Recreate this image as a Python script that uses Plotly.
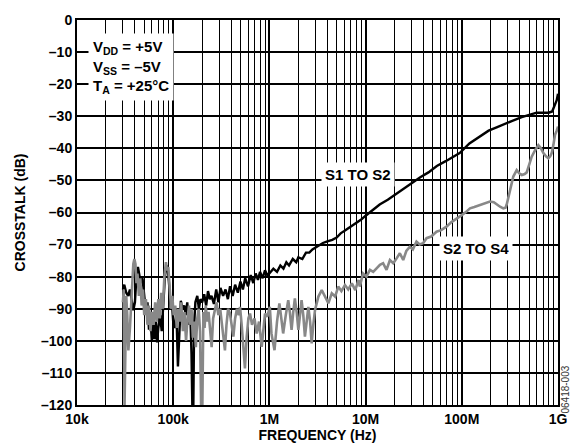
import plotly.graph_objects as go

# ---------------- data ----------------
s1_freq = [30e3, 31e3, 32.5e3, 34e3, 35.5e3, 37e3, 38.5e3, 40e3, 41.5e3, 43e3, 44.5e3, 46e3, 48e3,
           50e3, 52e3, 54e3, 56e3, 58e3, 60e3, 62e3, 64e3, 66e3, 68e3, 70e3, 73e3, 76e3, 79e3,
           82e3, 85e3, 88e3, 91e3, 94e3, 97e3, 100e3, 104e3, 108e3, 112e3, 116e3, 120e3, 125e3,
           130e3, 135e3, 140e3, 145e3, 150e3, 155e3, 158e3, 162e3, 165e3, 170e3, 178e3, 185e3,
           192e3, 200e3, 210e3, 220e3, 230e3, 240e3, 250e3, 265e3, 280e3, 295e3, 310e3, 330e3,
           350e3, 370e3, 390e3, 415e3, 440e3, 470e3, 500e3, 530e3, 560e3, 600e3, 640e3, 680e3,
           720e3, 760e3, 800e3, 850e3, 900e3, 950e3,
           1.0e6, 1.1e6, 1.2e6, 1.3e6, 1.4e6, 1.5e6, 1.6e6, 1.75e6, 1.9e6, 2.0e6, 2.2e6, 2.4e6,
           2.6e6, 2.8e6, 3.0e6, 3.3e6, 3.6e6, 4.0e6, 4.5e6, 5.0e6, 5.5e6, 6.0e6, 7.0e6, 8.0e6,
           9.0e6, 10e6, 12e6, 14e6, 17e6, 20e6, 25e6, 30e6, 37e6, 45e6, 55e6, 68e6, 80e6, 95e6,
           120e6, 150e6, 190e6, 230e6, 270e6, 330e6, 420e6, 520e6, 600e6, 700e6, 800e6, 870e6,
           930e6, 970e6, 1e9]
s1_db = [-84, -82.5, -85, -86, -84, -87.5, -90.5, -88, -80, -77, -79, -82, -80.5,
         -86, -91, -88, -96.5, -93, -100, -95, -99.5, -94, -100.5, -96, -92, -97, -88,
         -80, -76.5, -78, -83, -90, -88, -94, -96, -91, -108, -98, -87.5, -90,
         -89, -92, -88, -95, -90, -104, -120, -120, -95, -88, -86, -90,
         -87, -88, -85.5, -89, -84.5, -87, -86, -88.5, -84, -88, -83.5, -86,
         -84, -87, -83, -86, -82.5, -85, -81.5, -84, -80.5, -83, -79.5, -82,
         -79, -81, -78.5, -80.5, -78, -79.5,
         -79, -77.5, -78.5, -76.5, -77.5, -75.5, -76.5, -74.5, -75.5, -74, -74.5, -72.5,
         -72.5, -71.5, -71, -70.2, -69.5, -69, -68.5, -67.8, -66.5, -65.8, -64.5, -63.3,
         -62.2, -61, -59, -57.5, -56, -54.5, -52.5, -51, -49, -47.5, -45.5, -44, -42.8, -41.5,
         -38.5, -36.5, -34.5, -33.5, -32.5, -31.5, -30.3, -29.5, -28.9, -28.9, -28.9, -28.5,
         -26.5, -25, -23]

s2_freq = [30e3, 30.6e3, 31.2e3, 31.8e3, 32.5e3, 33.3e3, 34.2e3, 35.5e3, 37e3, 38.5e3, 39.5e3,
           40.5e3, 41.5e3, 42.5e3, 44e3, 45.5e3, 47e3, 48.5e3, 50e3, 52e3, 54e3, 56e3, 58e3,
           60e3, 62.5e3, 65e3, 67.5e3, 70e3, 72.5e3, 75e3, 78e3, 81e3, 84e3, 86.5e3, 89e3,
           92e3, 95e3, 98e3, 101e3, 105e3, 109e3, 113e3, 117e3, 121e3, 126e3, 131e3, 136e3,
           141e3, 146e3, 150e3, 155e3, 160e3, 166e3, 172e3, 178e3, 184e3, 190e3, 195e3, 201e3,
           206e3, 212e3, 218e3, 225e3, 233e3, 241e3, 251e3, 260e3, 270e3, 282e3, 295e3, 308e3,
           320e3, 333e3, 345e3, 358e3, 372e3, 389e3, 405e3, 422e3, 440e3, 460e3, 480e3, 495e3,
           515e3, 535e3, 557e3, 580e3, 605e3, 629e3, 660e3, 700e3, 738e3, 780e3, 832e3, 870e3,
           900e3, 950e3, 1.01e6, 1.05e6, 1.13e6, 1.2e6, 1.27e6, 1.33e6, 1.39e6, 1.48e6, 1.57e6,
           1.63e6, 1.70e6, 1.77e6, 1.84e6, 1.92e6, 2.0e6, 2.08e6, 2.16e6, 2.25e6, 2.34e6, 2.44e6,
           2.54e6, 2.65e6, 2.75e6, 2.86e6, 2.98e6, 3.23e6, 3.5e6, 3.79e6, 4.1e6, 4.45e6, 4.82e6,
           5.2e6, 5.6e6, 6.1e6, 6.6e6, 7.2e6, 7.8e6, 8.45e6, 8.7e6, 9.4e6, 10.2e6, 11.1e6, 12e6,
           13e6, 14.1e6, 15.2e6, 16.5e6, 17.9e6, 19.4e6, 21e6, 22.7e6, 24.6e6, 26.5e6, 28.8e6,
           31e6, 33.8e6, 36.5e6, 39.6e6, 43e6, 48e6, 54.6e6, 61e6, 69.3e6, 78e6, 88e6, 100e6,
           111e6, 121.6e6, 135e6, 154.5e6, 175e6, 196e6, 215e6, 230e6, 250e6, 270e6, 285e6,
           293e6, 315e6, 343e6, 372e6, 395e6, 420e6, 450e6, 473e6, 500e6, 533e6, 580e6, 625e6,
           665e6, 705e6, 750e6, 794e6, 830e6, 860e6, 895e6, 931e6, 970e6, 1e9]
s2_db = [-88, -84, -120, -100, -86, -92, -103, -96, -83, -76, -74.5,
         -76, -82, -79, -86, -80.5, -89, -84, -92, -87, -95, -89, -97,
         -91, -95, -88, -94, -87, -93, -85, -90, -80, -75.5, -78, -77,
         -84, -90, -86, -92, -89, -96, -90, -94, -88, -97, -91, -100,
         -93, -89, -95, -90, -99, -94, -102, -93, -90, -97, -120, -120,
         -91, -96, -89, -94, -91, -96, -102, -93, -90, -88, -92, -90,
         -94.5, -99, -103, -95, -90, -91.5, -95, -98.7, -93, -90, -92, -89.4,
         -95, -101, -108.6, -99, -93, -91.5, -95, -93, -97.7, -94, -101.9, -96,
         -91.5, -92.5, -89.4, -97.7, -102.9, -94, -88.3, -93, -97.7, -92, -87.3,
         -91, -96.6, -91, -86.8, -91, -96.6, -92, -87.3, -92, -98.7, -94,
         -89.4, -94, -100.8, -95, -90.4, -86.2, -84.2, -86.2, -88.3, -85.2, -86.2,
         -83.1, -84.5, -82.6, -84, -82.1, -84.2, -81, -83.1, -79, -80, -77.9, -78.5,
         -77.4, -76.3, -75.8, -77.9, -74.8, -75.8, -74.3, -72.7, -74.8, -72, -70.7,
         -71.5, -69.1, -70, -69.6, -68, -67.5, -66, -65.5, -64.4, -63, -61.8, -60.8,
         -59.8, -58.7, -58.3, -57.7, -57, -56.6, -56.8, -57.5, -58.2, -58.7, -58.5,
         -57.5, -53, -48.8, -46.8, -47.8, -48.3, -48, -47.5, -45, -42.6, -40.5, -39,
         -40, -41.5, -42.5, -43.1, -42.5, -41.5, -39, -35.8, -34.5, -33.2]

x_tick_vals = [1e4, 1e5, 1e6, 1e7, 1e8, 1e9]
x_tick_text = ["10k", "100k", "1M", "10M", "100M", "1G"]
y_tick_vals = [0, -10, -20, -30, -40, -50, -60, -70, -80, -90, -100, -110, -120]
y_tick_text = ["0", "–10", "–20", "–30", "–40", "–50", "–60", "–70", "–80", "–90",
               "–100", "–110", "–120"]

minor_vals = [d * m for d in x_tick_vals[:-1] for m in range(2, 10)]

FONT = "Liberation Sans, Arial, sans-serif"

fig = go.Figure()
fig.add_trace(go.Scatter(x=s1_freq, y=s1_db, mode="lines", name="S1 TO S2",
                         line=dict(color="black", width=2.4)))
fig.add_trace(go.Scatter(x=s2_freq, y=s2_db, mode="lines", name="S2 TO S4",
                         line=dict(color="#888888", width=2.6)))

fig.update_layout(
    width=571, height=443,
    margin=dict(l=77, r=13, t=20, b=38),
    paper_bgcolor="white", plot_bgcolor="white",
    showlegend=False,
    font=dict(family=FONT, color="black"),
)

fig.update_xaxes(
    type="log", range=[4, 9],
    tickmode="array", tickvals=x_tick_vals, ticktext=x_tick_text,
    showgrid=True, gridcolor="black", gridwidth=2,
    minor=dict(tickmode="array", tickvals=minor_vals, showgrid=True,
               gridcolor="black", gridwidth=1.2, ticks=""),
    showline=True, linecolor="black", linewidth=2, mirror=True,
    ticks="", zeroline=False,
    tickfont=dict(family=FONT, size=14, weight="bold", color="black"),
    title=dict(text="FREQUENCY (Hz)", standoff=2,
               font=dict(family=FONT, size=14, weight="bold", color="black")),
    automargin=False,
)
fig.update_yaxes(
    range=[-120, 0],
    tickmode="array", tickvals=y_tick_vals, ticktext=y_tick_text,
    showgrid=True, gridcolor="black", gridwidth=1.5,
    showline=True, linecolor="black", linewidth=2, mirror=True,
    ticks="", zeroline=False,
    tickfont=dict(family=FONT, size=14, weight="bold", color="black"),
    title=dict(text="CROSSTALK (dB)", standoff=12,
               font=dict(family=FONT, size=14, weight="bold", color="black")),
    automargin=False,
)

ann_font = dict(family=FONT, size=15, weight="bold", color="black")
fig.add_annotation(
    xref="paper", yref="paper", x=0.022, y=0.966, xanchor="left", yanchor="top",
    text="V<sub>DD</sub> = +5V<br>V<sub>SS</sub> = –5V<br>T<sub>A</sub> = +25°C",
    align="left", showarrow=False, bgcolor="white", borderpad=4, font=ann_font,
)
fig.add_annotation(x=6.92, y=-48.3, text="S1 TO S2", showarrow=False,
                   bgcolor="white", borderpad=3, font=ann_font)
fig.add_annotation(x=8.148, y=-71.1, text="S2 TO S4", showarrow=False,
                   bgcolor="white", borderpad=3, font=ann_font)
fig.add_annotation(xref="paper", yref="paper", x=1.0165, y=0.04, text="06418-003",
                   xanchor="center", yanchor="middle",
                   textangle=-90, showarrow=False,
                   font=dict(family=FONT, size=10, color="#333333"))

fig.write_html("out.html", config={"displayModeBar": False},
               post_script="document.body.style.margin='0';document.body.style.padding='0';")
